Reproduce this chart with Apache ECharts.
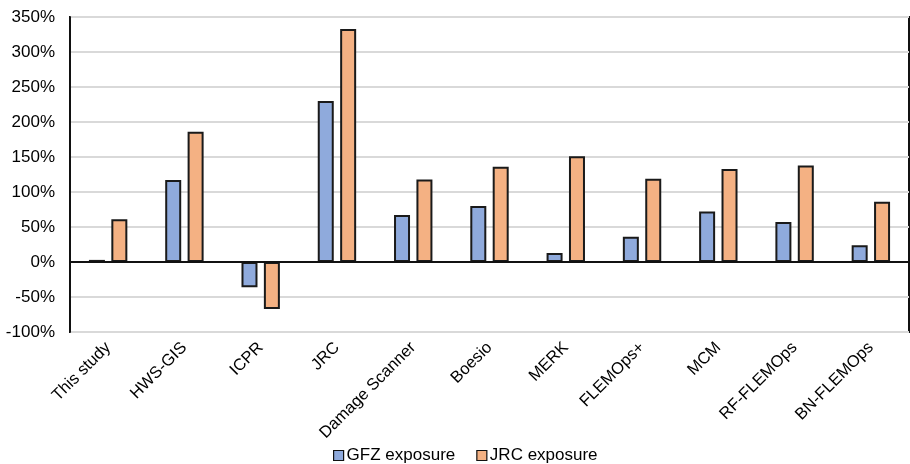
<!DOCTYPE html>
<html>
<head>
<meta charset="utf-8">
<script src="https://cdn.jsdelivr.net/npm/echarts@6/dist/echarts.min.js"></script>
<style>html,body{margin:0;padding:0;background:#fff}#c{width:910px;height:464px}</style>
</head>
<body>
<div id="c"></div>
<script>
const categories = ['This study','HWS-GIS','ICPR','JRC','Damage Scanner','Boesio','MERK','FLEMOps+','MCM','RF-FLEMOps','BN-FLEMOps'];
const gfzExposure = [3, 117, -36, 230, 67, 80, 13, 36, 72, 57, 24];
const jrcExposure = [61, 186, -67, 333, 118, 136, 151, 119, 133, 138, 86];
const seriesNames = ['GFZ exposure', 'JRC exposure'];

const chart = echarts.init(document.getElementById('c'), null, {renderer: 'canvas'});
const font = 'Liberation Sans, Arial, sans-serif';
chart.setOption({
  animation: false,
  grid: {left: 70, right: 1, top: 17, bottom: 132, show: true, borderColor: '#111', borderWidth: 2, backgroundColor: 'transparent'},
  legend: {
    top: 442, left: 328, itemWidth: 10, itemHeight: 10, itemGap: 21, icon: 'rect',
    textStyle: {fontFamily: font, fontSize: 17, color: '#000', padding: [0, 0, 0, -2]},
    itemStyle: {borderColor: '#111', borderWidth: 1.2},
    data: seriesNames
  },
  xAxis: {
    type: 'category', data: categories,
    axisLine: {show: false, onZero: false},
    axisTick: {show: false},
    axisLabel: {rotate: 45, interval: 0, fontFamily: font, fontSize: 16.5, color: '#000', margin: 13}
  },
  yAxis: {
    type: 'value', min: -100, max: 350, interval: 50,
    axisLine: {show: true, lineStyle: {color: '#111', width: 2}},
    axisTick: {show: false},
    axisLabel: {formatter: '{value}%', fontFamily: font, fontSize: 17, color: '#000', margin: 15},
    splitLine: {lineStyle: {color: '#d9d9d9', width: 2}}
  },
  series: [
    {
      name: seriesNames[0], type: 'bar', data: gfzExposure, barWidth: 16, barGap: '40%',
      itemStyle: {color: '#8faadc', borderColor: '#1a1a1a', borderWidth: 2},
      markLine: {silent: true, symbol: 'none', label: {show: false}, lineStyle: {color: '#111', width: 2, type: 'solid'}, data: [{yAxis: 0}]}
    },
    {
      name: seriesNames[1], type: 'bar', data: jrcExposure, barWidth: 16,
      itemStyle: {color: '#f4b183', borderColor: '#1a1a1a', borderWidth: 2}
    }
  ]
});
</script>
</body>
</html>
